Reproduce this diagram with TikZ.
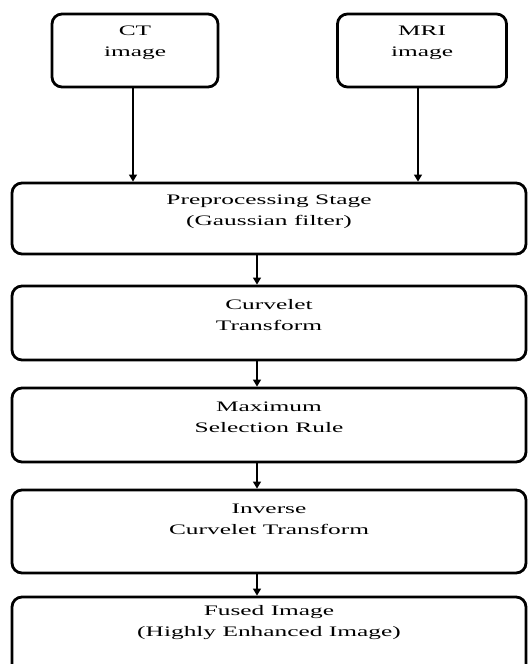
\documentclass[tikz,border=0pt]{standalone}
\usepackage{fontspec}
\setmainfont[FakeStretch=1.75]{Liberation Serif}
\usetikzlibrary{arrows.meta}
\tikzset{
  box/.style={draw=black, line width=2.8pt, rounded corners=10pt, fill=white, inner sep=0pt},
  lbl/.style={align=center, inner sep=0pt, font=\fontsize{14.5pt}{21pt}\selectfont},
  conn/.style={draw=black, line width=1.3pt, -{Triangle[width=8pt,length=7pt]}}
}
\begin{document}
\begin{tikzpicture}[x=1pt,y=-1pt]
\useasboundingbox (0,0) rectangle (530,664);
% top boxes
\node[box, minimum width=166pt, minimum height=73pt] (ct) at (135,50.5) {};
\node[box, minimum width=169pt, minimum height=73pt] (mri) at (422,50.5) {};
\node[lbl] (ctt) at ([yshift=8pt]ct.center) {CT\\image};
\node[lbl] (mrit) at ([yshift=8pt]mri.center) {MRI\\image};
% main column
\node[box, minimum width=514pt, minimum height=71pt] (pre) at (269,218.5) {};
\node[box, minimum width=514pt, minimum height=74pt] (cur) at (269,323) {};
\node[box, minimum width=514pt, minimum height=74pt] (max) at (269,425) {};
\node[box, minimum width=514pt, minimum height=83pt] (inv) at (269,531.5) {};
\node[box, minimum width=514pt, minimum height=100pt] (fus) at (269,647) {};
\node[lbl] (pret) at (269,212) {Preprocessing Stage\\(Gaussian filter)};
\node[lbl] (curt) at (269,315) {Curvelet\\Transform};
\node[lbl] (maxt) at (269,417) {Maximum\\Selection Rule};
\node[lbl] (invt) at (269,519) {Inverse\\Curvelet Transform};
\node[lbl] (fust) at (269,623) {Fused Image\\(Highly Enhanced Image)};
% connectors
\coordinate (a1) at (133,87);
\coordinate (a2) at (418,87);
\draw[conn] (ct.south -| a1) -- (pre.north -| a1);
\draw[conn] (mri.south -| a2) -- (pre.north -| a2);
\coordinate (c) at (257,0);
\draw[conn] (pre.south -| c) -- (cur.north -| c);
\draw[conn] (cur.south -| c) -- (max.north -| c);
\draw[conn] (max.south -| c) -- (inv.north -| c);
\draw[conn] (inv.south -| c) -- (fus.north -| c);
\end{tikzpicture}
\end{document}
